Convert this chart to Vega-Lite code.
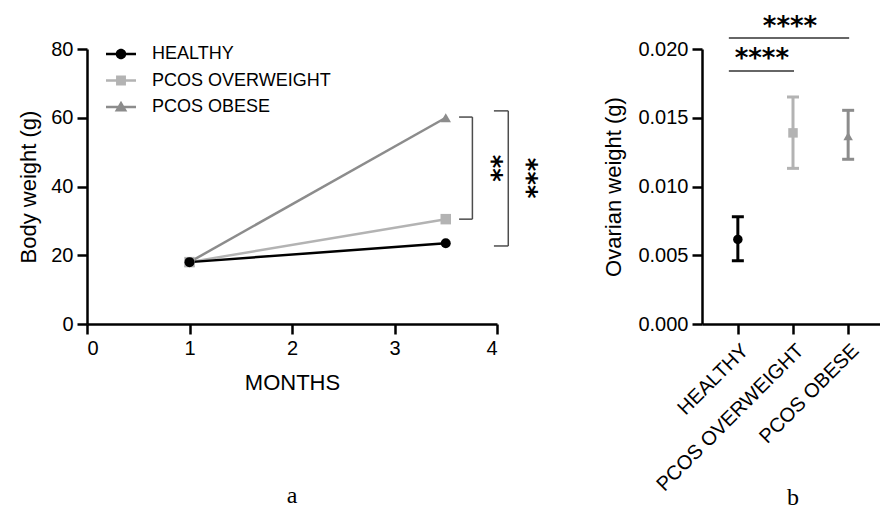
{
  "$schema": "https://vega.github.io/schema/vega-lite/v6.json",
  "padding": {"left": 17, "top": 13, "right": 0, "bottom": 0},
  "background": "white",
  "config": {
    "view": {"stroke": null},
    "font": "Liberation Sans",
    "axis": {
      "domainColor": "#000000", "domainWidth": 2.5, "tickColor": "#000000", "tickWidth": 2.5, "tickSize": 10,
      "labelColor": "#000000", "labelFontSize": 20, "labelFont": "Liberation Sans",
      "titleFontSize": 22, "titleFontWeight": "normal", "titleColor": "#000000", "titleFont": "Liberation Sans",
      "grid": false
    },
    "title": {"font": "Liberation Serif", "fontSize": 24, "fontWeight": "normal", "color": "#000000"}
  },
  "bounds": "flush",
  "spacing": 205,
  "resolve": {"scale": {"color": "independent", "shape": "independent"}, "legend": {"color": "independent", "shape": "independent"}},
  "hconcat": [
    {
      "width": 410,
      "height": 275,
      "title": {"text": "a", "orient": "bottom", "offset": 91},
      "data": {"values": [
        {"group": "PCOS OBESE", "month": 1, "weight": 18},
        {"group": "PCOS OBESE", "month": 3.5, "weight": 60},
        {"group": "PCOS OVERWEIGHT", "month": 1, "weight": 18},
        {"group": "PCOS OVERWEIGHT", "month": 3.5, "weight": 30.5},
        {"group": "HEALTHY", "month": 1, "weight": 18},
        {"group": "HEALTHY", "month": 3.5, "weight": 23.5}
      ]},
      "layer": [
        {
          "transform": [{"filter": "datum.group === 'PCOS OBESE'"}],
          "mark": {"type": "line", "strokeWidth": 2.5, "color": "#8c8c8c"},
          "encoding": {
            "x": {"field": "month", "type": "quantitative", "scale": {"domain": [0, 4]},
                  "axis": {"values": [0, 1, 2, 3, 4], "format": "d", "title": "MONTHS", "titlePadding": 14, "labelPadding": 4}},
            "y": {"field": "weight", "type": "quantitative", "scale": {"domain": [0, 80]},
                  "axis": {"values": [0, 20, 40, 60, 80], "format": "d", "title": "Body weight (g)", "titlePadding": 10, "labelPadding": 4}}
          }
        },
        {
          "transform": [{"filter": "datum.group === 'PCOS OVERWEIGHT'"}],
          "mark": {"type": "line", "strokeWidth": 2.5, "color": "#b3b3b3"},
          "encoding": {"x": {"field": "month", "type": "quantitative"}, "y": {"field": "weight", "type": "quantitative"}}
        },
        {
          "transform": [{"filter": "datum.group === 'HEALTHY'"}],
          "mark": {"type": "line", "strokeWidth": 2.5, "color": "#000000"},
          "encoding": {"x": {"field": "month", "type": "quantitative"}, "y": {"field": "weight", "type": "quantitative"}}
        },
        {
          "transform": [{"filter": "datum.group === 'PCOS OBESE'"}],
          "mark": {"type": "point", "shape": "triangle-up", "filled": true, "opacity": 1, "size": 110, "color": "#8c8c8c"},
          "encoding": {"x": {"field": "month", "type": "quantitative"}, "y": {"field": "weight", "type": "quantitative"}}
        },
        {
          "transform": [{"filter": "datum.group === 'PCOS OVERWEIGHT'"}],
          "mark": {"type": "point", "shape": "square", "filled": true, "opacity": 1, "size": 110, "color": "#b3b3b3"},
          "encoding": {"x": {"field": "month", "type": "quantitative"}, "y": {"field": "weight", "type": "quantitative"}}
        },
        {
          "transform": [{"filter": "datum.group === 'HEALTHY'"}],
          "mark": {"type": "point", "shape": "circle", "filled": true, "opacity": 1, "size": 100, "color": "#000000"},
          "encoding": {"x": {"field": "month", "type": "quantitative"}, "y": {"field": "weight", "type": "quantitative"}}
        },
        {
          "transform": [{"filter": "false"}],
          "mark": {"type": "point", "filled": true, "opacity": 1},
          "encoding": {
            "x": {"field": "month", "type": "quantitative"},
            "y": {"field": "weight", "type": "quantitative"},
            "color": {"field": "group", "type": "nominal",
                      "scale": {"domain": ["HEALTHY", "PCOS OVERWEIGHT", "PCOS OBESE"], "range": ["#000000", "#b3b3b3", "#8c8c8c"]},
                      "legend": {"orient": "none", "legendX": 19, "legendY": -6, "title": null, "labelFontSize": 18, "labelColor": "#000000", "labelLimit": 0,
                                 "labelOffset": 16, "symbolSize": 900, "clipHeight": 22, "rowPadding": 4.5, "symbolStrokeWidth": 0}},
            "shape": {"field": "group", "type": "nominal",
                      "scale": {"domain": ["HEALTHY", "PCOS OVERWEIGHT", "PCOS OBESE"],
                                "range": [
                                  "M-1,-0.085H1V0.085H-1Z M-0.35,0A0.35,0.35 0 1,1 0.35,0A0.35,0.35 0 1,1 -0.35,0Z",
                                  "M-1,-0.085H1V0.085H-1Z M-0.33,-0.33H0.33V0.33H-0.33Z",
                                  "M-1,-0.085H1V0.085H-1Z M0,-0.42L0.42,0.3H-0.42Z"
                                ]},
                      "legend": {"orient": "none", "legendX": 19, "legendY": -6, "title": null, "labelFontSize": 18, "labelColor": "#000000", "labelLimit": 0,
                                 "labelOffset": 16, "symbolSize": 900, "clipHeight": 22, "rowPadding": 4.5, "symbolStrokeWidth": 0}}
          }
        },
        {
          "data": {"values": [
            {"xa": 3.76, "xb": 3.76, "ya": 30.5, "yb": 60.2},
            {"xa": 3.63, "xb": 3.76, "ya": 60.2, "yb": 60.2},
            {"xa": 3.63, "xb": 3.76, "ya": 30.5, "yb": 30.5},
            {"xa": 4.11, "xb": 4.11, "ya": 22.7, "yb": 62},
            {"xa": 3.97, "xb": 4.11, "ya": 62, "yb": 62},
            {"xa": 3.97, "xb": 4.11, "ya": 22.7, "yb": 22.7}
          ]},
          "mark": {"type": "rule", "color": "#4d4d4d", "strokeWidth": 1.5},
          "encoding": {
            "x": {"field": "xa", "type": "quantitative"}, "x2": {"field": "xb"},
            "y": {"field": "ya", "type": "quantitative"}, "y2": {"field": "yb"}
          }
        },
        {
          "data": {"values": [
            {"label": "**", "xs": 3.94, "ys": 45.3},
            {"label": "***", "xs": 4.28, "ys": 42.4}
          ]},
          "mark": {"type": "text", "angle": 90, "font": "DejaVu Sans", "fontWeight": "bold", "fontSize": 26, "align": "center", "baseline": "middle", "color": "#000000"},
          "encoding": {
            "x": {"field": "xs", "type": "quantitative"},
            "y": {"field": "ys", "type": "quantitative"},
            "text": {"field": "label"}
          }
        }
      ]
    },
    {
      "width": 182,
      "height": 275,
      "title": {"text": "b", "orient": "bottom", "offset": -9},
      "data": {"values": [
        {"cat": "HEALTHY", "mean": 0.00615, "lo": 0.0046, "hi": 0.0078},
        {"cat": "PCOS OVERWEIGHT", "mean": 0.0139, "lo": 0.01132, "hi": 0.01651},
        {"cat": "PCOS OBESE", "mean": 0.01367, "lo": 0.01198, "hi": 0.01554}
      ]},
      "layer": [
        {
          "mark": {"type": "rule", "strokeWidth": 3},
          "encoding": {
            "x": {"field": "cat", "type": "nominal",
                  "scale": {"type": "point", "padding": 0.65, "domain": ["HEALTHY", "PCOS OVERWEIGHT", "PCOS OBESE"]},
                  "axis": {"labelAngle": -45, "title": null, "labelPadding": 6, "labelLimit": 0}},
            "y": {"field": "lo", "type": "quantitative", "scale": {"domain": [0, 0.02]},
                  "axis": {"values": [0, 0.005, 0.01, 0.015, 0.02], "format": ".3f", "title": "Ovarian weight (g)", "titlePadding": 12, "labelPadding": 4}},
            "y2": {"field": "hi"},
            "color": {"field": "cat", "type": "nominal",
                      "scale": {"domain": ["HEALTHY", "PCOS OVERWEIGHT", "PCOS OBESE"], "range": ["#000000", "#b3b3b3", "#8c8c8c"]},
                      "legend": null}
          }
        },
        {
          "mark": {"type": "tick", "size": 12, "thickness": 3, "opacity": 1},
          "encoding": {
            "x": {"field": "cat", "type": "nominal"},
            "y": {"field": "lo", "type": "quantitative"},
            "color": {"field": "cat", "type": "nominal", "legend": null}
          }
        },
        {
          "mark": {"type": "tick", "size": 12, "thickness": 3, "opacity": 1},
          "encoding": {
            "x": {"field": "cat", "type": "nominal"},
            "y": {"field": "hi", "type": "quantitative"},
            "color": {"field": "cat", "type": "nominal", "legend": null}
          }
        },
        {
          "mark": {"type": "point", "filled": true, "opacity": 1, "size": 90},
          "encoding": {
            "x": {"field": "cat", "type": "nominal"},
            "y": {"field": "mean", "type": "quantitative"},
            "color": {"field": "cat", "type": "nominal", "legend": null},
            "shape": {"field": "cat", "type": "nominal",
                      "scale": {"domain": ["HEALTHY", "PCOS OVERWEIGHT", "PCOS OBESE"], "range": ["circle", "square", "triangle-up"]},
                      "legend": null}
          }
        },
        {
          "data": {"values": [
            {"from": "HEALTHY", "to": "PCOS OVERWEIGHT", "level": 0.0184},
            {"from": "HEALTHY", "to": "PCOS OBESE", "level": 0.0208}
          ]},
          "mark": {"type": "rule", "color": "#333333", "strokeWidth": 1.5, "xOffset": -9, "x2Offset": 1},
          "encoding": {
            "x": {"field": "from", "type": "nominal"},
            "x2": {"field": "to"},
            "y": {"field": "level", "type": "quantitative"}
          }
        },
        {
          "data": {"values": [{"cat": "HEALTHY", "label": "****", "level": 0.01927}]},
          "mark": {"type": "text", "font": "DejaVu Sans", "fontWeight": "bold", "fontSize": 26, "align": "center", "baseline": "middle", "dx": 24, "color": "#000000"},
          "encoding": {
            "x": {"field": "cat", "type": "nominal"},
            "y": {"field": "level", "type": "quantitative"},
            "text": {"field": "label"}
          }
        },
        {
          "data": {"values": [{"cat": "PCOS OVERWEIGHT", "label": "****", "level": 0.0216}]},
          "mark": {"type": "text", "font": "DejaVu Sans", "fontWeight": "bold", "fontSize": 26, "align": "center", "baseline": "middle", "dx": -3, "color": "#000000"},
          "encoding": {
            "x": {"field": "cat", "type": "nominal"},
            "y": {"field": "level", "type": "quantitative"},
            "text": {"field": "label"}
          }
        }
      ]
    }
  ]
}
